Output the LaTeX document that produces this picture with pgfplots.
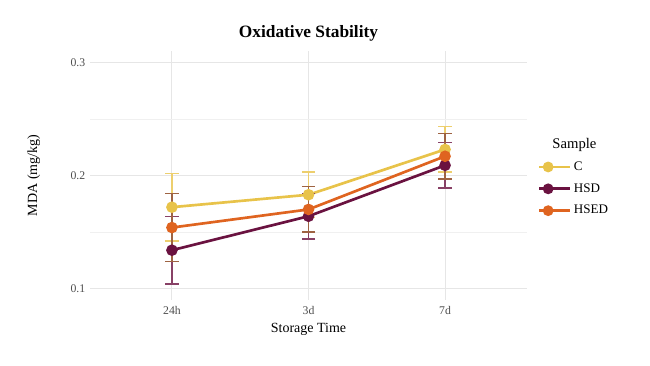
\documentclass[border=0pt]{standalone}
\usepackage{fontspec}
\setmainfont{Liberation Serif}
\usepackage{pgfplots}
\pgfplotsset{compat=1.18}
\definecolor{cC}{HTML}{E8C34A}
\definecolor{cHSD}{HTML}{6A1240}
\definecolor{cHSED}{HTML}{DF6420}
\definecolor{gridc}{HTML}{E6E6E6}
\definecolor{tickc}{HTML}{4D4D4D}
\begin{document}
\begin{tikzpicture}
\path[use as bounding box] (0,0) rectangle (487.5pt,274.5pt);
\begin{axis}[
  at={(67.5pt,49.5pt)}, anchor=south west,
  scale only axis, width=327.75pt, height=186.75pt,
  xmin=0.4, xmax=3.6, ymin=0.09, ymax=0.31,
  xtick={1,2,3}, xticklabels={24h,3d,7d},
  ytick={0.1,0.2,0.3},
  minor ytick={0.15,0.25},
  yticklabel style={/pgf/number format/fixed, /pgf/number format/precision=1},
  /pgf/number format/assume math mode=true,
  axis line style={draw=none},
  major tick length=0pt, minor tick length=0pt,
  grid=both,
  major grid style={gridc, line width=0.8pt},
  minor grid style={gridc!60, line width=0.5pt},
  tick label style={font=\fontsize{8.8}{10}\selectfont, text=tickc},
  xticklabel style={yshift=-1pt},
  xlabel={Storage Time}, ylabel={MDA (mg/kg)},
  label style={font=\fontsize{10.5}{12}\selectfont},
  xlabel style={yshift=0pt},
  ylabel style={yshift=16pt},
  title={\textbf{Oxidative Stability}},
  title style={font=\fontsize{13}{15}\selectfont, yshift=-2pt},
  legend style={at={(1.015,0.672)}, anchor=north west, draw=none, fill=none,
    font=\fontsize{9.8}{11}\selectfont, row sep=4.4pt},
  legend cell align=left,
  legend image code/.code={
    \draw[line width=2pt] (0pt,0pt) -- (13.5pt,0pt);
    \filldraw (6.75pt,0pt) circle (3pt);
    \path (0pt,0pt) -- (23pt,0pt);
  },
]
\addlegendimage{empty legend}
\addlegendentry{\hspace{-16pt}\fontsize{11}{13}\selectfont Sample}
\addplot+[cC, line width=2pt, mark=*, mark size=3.3pt, mark options={fill=cC, draw=cC},
  error bars/.cd, y dir=both, y explicit,
  error bar style={cC!80, line width=1pt},
  error mark options={cC!80, line width=1pt, mark size=5pt, rotate=90}]
  coordinates {(1,0.172) +- (0,0.030) (2,0.183) +- (0,0.020) (3,0.223) +- (0,0.020)};
\addlegendentry{C}
\addplot+[cHSD, line width=2pt, mark=*, mark size=3.3pt, mark options={fill=cHSD, draw=cHSD},
  error bars/.cd, y dir=both, y explicit,
  error bar style={cHSD!80, line width=1pt},
  error mark options={cHSD!80, line width=1pt, mark size=5pt, rotate=90}]
  coordinates {(1,0.134) +- (0,0.030) (2,0.164) +- (0,0.020) (3,0.209) +- (0,0.020)};
\addlegendentry{HSD}
\addplot+[cHSED, line width=2pt, mark=*, mark size=3.3pt, mark options={fill=cHSED, draw=cHSED},
  error bars/.cd, y dir=both, y explicit,
  error bar style={cHSED!60!black!80, line width=1pt},
  error mark options={cHSED!60!black!80, line width=1pt, mark size=5pt, rotate=90}]
  coordinates {(1,0.154) +- (0,0.030) (2,0.170) +- (0,0.020) (3,0.217) +- (0,0.020)};
\addlegendentry{HSED}
\end{axis}
\end{tikzpicture}
\end{document}
